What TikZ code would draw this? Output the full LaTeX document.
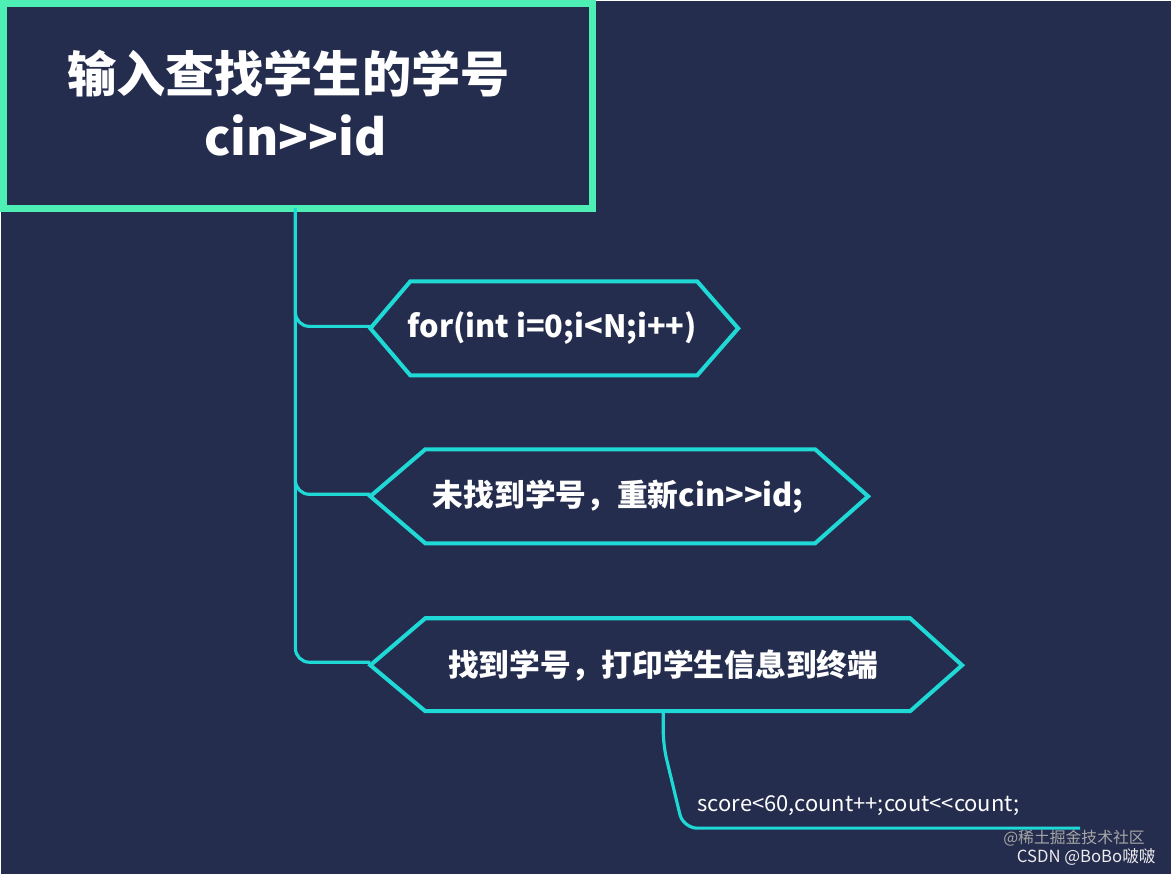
\documentclass[tikz,border=0pt]{standalone}
\usepackage{fontspec}
\setmainfont{Noto Sans CJK SC}
\usetikzlibrary{positioning}
\definecolor{bgblue}{HTML}{252D4E}
\definecolor{mint}{HTML}{4EEFB5}
\definecolor{aqua}{HTML}{1FD9D6}
\begin{document}
\begin{tikzpicture}[
    x=0.02cm, y=-0.02cm,
    branch/.style={draw=aqua, line width=1.8pt, rounded corners=8pt},
    hexbox/.style={draw=aqua, line width=2.3pt, line join=miter},
    label/.style={text=white, font=\bfseries\fontsize{17.5}{20}\selectfont, inner sep=0pt}
  ]
\fill[bgblue] (0,0) rectangle (1171,874);

% title box
\draw[mint, line width=4pt, fill=bgblue] (3,3) rectangle (592,208);
\node[text=white, font=\bfseries\fontsize{28}{35}\selectfont, inner sep=0pt] (title) at (288,73)
  {输入查找学生的学号};
\node[text=white, font=\bfseries\fontsize{28}{35}\selectfont, inner sep=0pt] (cmd) at (295,135)
  {cin>\kern0pt>id};
\coordinate (root) at (295,208);

% hexagons
\draw[hexbox] (370,328) -- (410,281) -- (697,281) -- (738,328) -- (697,375) -- (410,375) -- cycle;
\node[label] (loop) at (552,328) {for(int i=0;i<N;i++)};
\draw[hexbox] (370,496) -- (425,449) -- (815,449) -- (868,496) -- (815,543) -- (425,543) -- cycle;
\node[label] (miss) at (618,496) {未找到学号，重新cin>\kern0pt>id;};
\draw[hexbox] (370,665) -- (425,618) -- (910,618) -- (962,665) -- (910,711) -- (425,711) -- cycle;
\node[label] (hit) at (663,665) {找到学号，打印学生信息到终端};

% branches
\coordinate (a1) at (370,326);
\coordinate (a2) at (370,494);
\coordinate (a3) at (370,662);
\draw[branch] (root) |- (a1);
\draw[branch] (root) |- (a2);
\draw[branch] (root) |- (a3);

% leaf
\coordinate (h0) at (663,713);
\coordinate (h1) at (683,828);
\coordinate (h2) at (1080,828);
\draw[branch] (h0) -- (663,745) -- (h1) -- (h2);
\node[text=white, font=\fontsize{12.5}{15}\selectfont, anchor=south west, inner sep=0pt] (note) at (697,816)
  {score<60,count++;cout<\kern0pt<count;};

% watermark
\node[text=gray!70, font=\fontsize{9}{11}\selectfont, anchor=east, inner sep=0pt] (wm1) at (1145,838) {@稀土掘金技术社区};
\node[text=white!85!gray, font=\fontsize{9.5}{11}\selectfont, anchor=east, inner sep=0pt] (wm2) at (1156,857) {CSDN @BoBo啵啵};
\end{tikzpicture}
\end{document}
